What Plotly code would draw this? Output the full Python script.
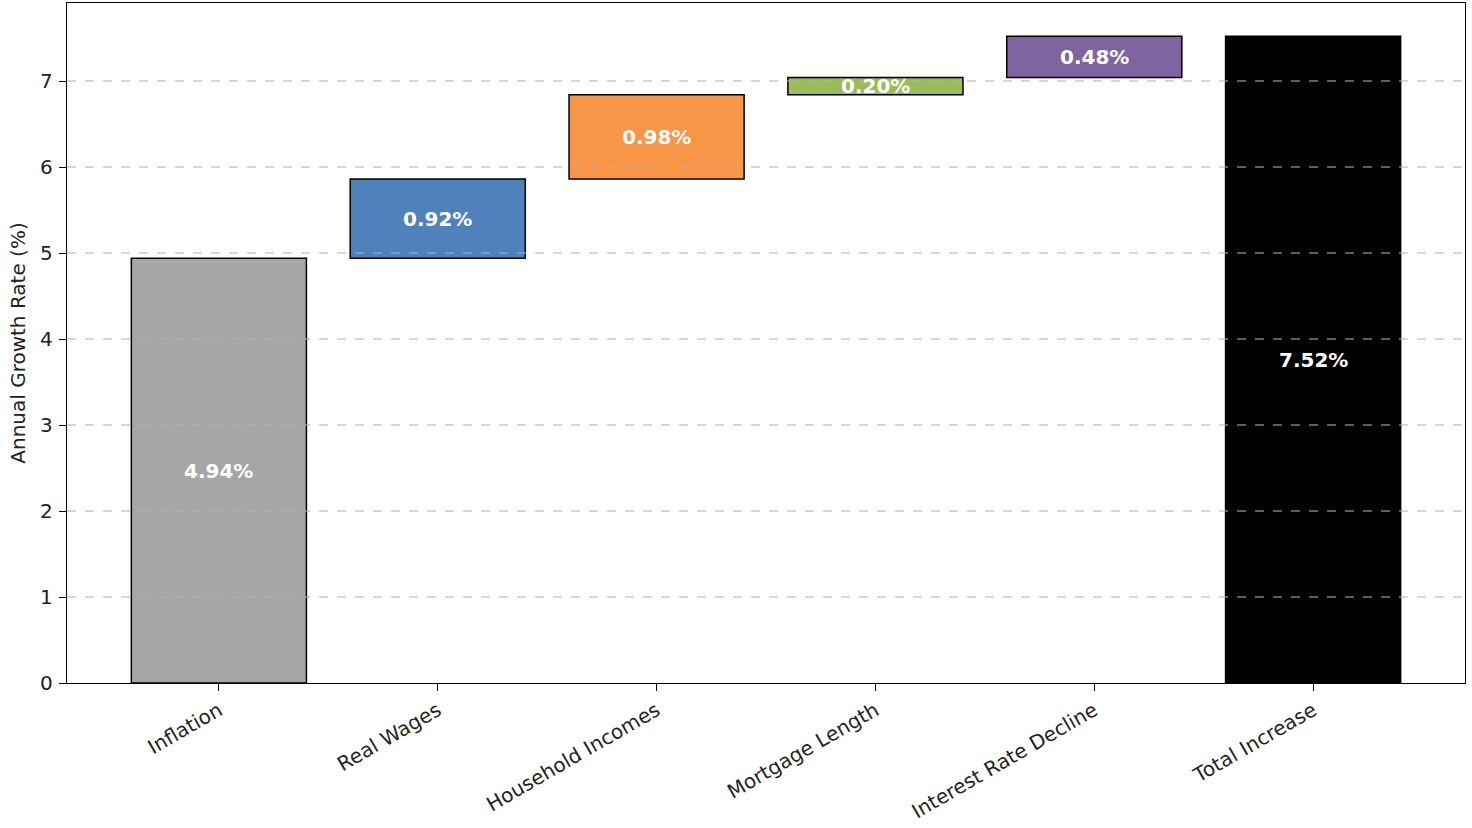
import plotly.graph_objects as go

categories = ["Inflation", "Real Wages", "Household Incomes", "Mortgage Length",
              "Interest Rate Decline", "Total Increase"]
contributions = [4.94, 0.92, 0.98, 0.20, 0.48]
total_value = 7.52
colors = ["#a6a6a6", "#4f81bd", "#f79646", "#9bbb59", "#8064a2", "#000000"]
y_ticks = [0, 1, 2, 3, 4, 5, 6, 7]

# waterfall bases
bases = []
running = 0.0
for v in contributions:
    bases.append(running)
    running += v
values = contributions + [total_value]
bases = bases + [0.0]

fig = go.Figure()
fig.add_trace(go.Bar(
    x=categories, y=values, base=bases, width=0.8,
    marker=dict(color=colors, line=dict(color="#000000", width=1.5)),
    hoverinfo="skip", showlegend=False,
))

font_family = "DejaVu Sans"
for c, b, v in zip(categories, bases, values):
    fig.add_annotation(
        x=c, y=b + v / 2, xref="x", yref="y",
        text=f"<b>{v:.2f}%</b>", showarrow=False,
        font=dict(family=font_family, size=20, color="white"),
    )

# dashed grid lines above bars
for t in y_ticks[1:]:
    fig.add_shape(type="line", xref="paper", yref="y", x0=0, x1=1, y0=t, y1=t,
                  line=dict(color="rgba(176,176,176,0.7)", width=1.3, dash="dash"),
                  layer="above")

fig.update_layout(
    width=1472, height=828,
    margin=dict(l=67, r=7, t=3, b=145),
    paper_bgcolor="white", plot_bgcolor="white",
    font=dict(family=font_family, size=20, color="#222222"),
    bargap=0.2,
)
fig.update_xaxes(
    range=[-0.694, 5.694], tickangle=-30, automargin=False,
    showline=True, linecolor="#000000", linewidth=1.3, mirror=True,
    ticks="outside", ticklen=7, tickwidth=1.3, tickcolor="#000000",
    showgrid=False, tickfont=dict(size=20, color="#222222"),
)
fig.update_yaxes(
    range=[0, 7.907], tickvals=y_ticks, automargin=False,
    showline=True, linecolor="#000000", linewidth=1.3, mirror=True,
    ticks="outside", ticklen=7, tickwidth=1.3, tickcolor="#000000",
    showgrid=False, zeroline=False, ticklabelstandoff=2,
    title=dict(text="Annual Growth Rate (%)", standoff=9,
               font=dict(size=20, color="#222222")),
    tickfont=dict(size=20, color="#222222"),
)

fig.write_html("out.html",
               config={"displayModeBar": False},
               post_script="document.body.style.margin='0px';"
                           "document.body.style.overflow='hidden';")
